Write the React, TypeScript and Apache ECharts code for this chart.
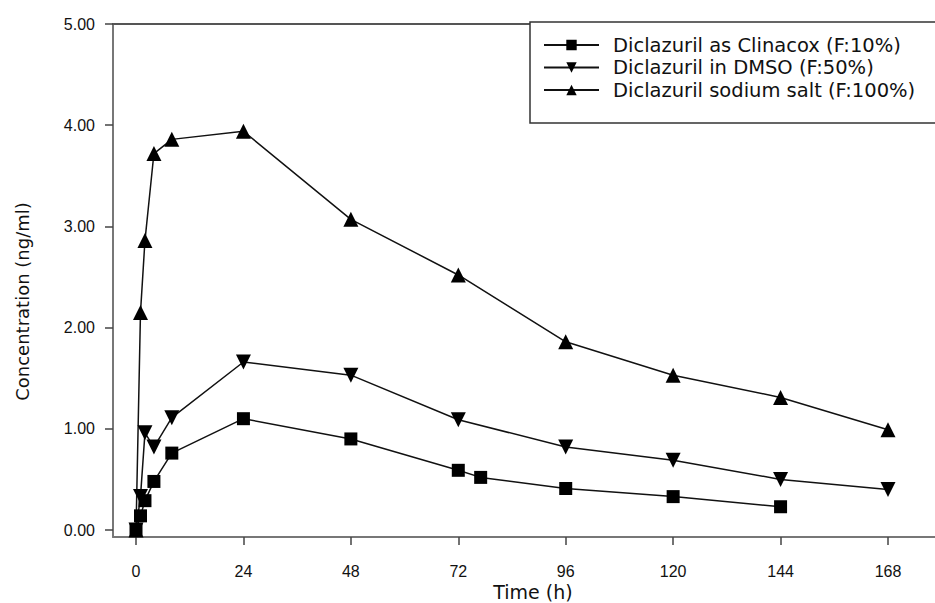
import React, { useEffect, useRef } from "react";
import * as echarts from "echarts";

const seriesNames = [
  "Diclazuril as Clinacox (F:10%)",
  "Diclazuril in DMSO (F:50%)",
  "Diclazuril sodium salt (F:100%)",
];

const clinacoxTime = [0, 1, 2, 4, 8, 24, 48, 72, 77, 96, 120, 144];
const clinacoxConc = [0, 0.14, 0.29, 0.48, 0.76, 1.1, 0.9, 0.59, 0.52, 0.41, 0.33, 0.23];

const dmsoTime = [0, 1, 2, 4, 8, 24, 48, 72, 96, 120, 144, 168];
const dmsoConc = [0, 0.33, 0.96, 0.82, 1.11, 1.66, 1.53, 1.09, 0.82, 0.69, 0.5, 0.4];

const sodiumTime = [0, 1, 2, 4, 8, 24, 48, 72, 96, 120, 144, 168];
const sodiumConc = [0, 2.15, 2.86, 3.72, 3.86, 3.94, 3.07, 2.52, 1.86, 1.53, 1.31, 0.99];

const xTicks = [0, 24, 48, 72, 96, 120, 144, 168];
const yTicks = [0, 1, 2, 3, 4, 5];

const FONT = "Liberation Sans";
const WIDE = "DejaVu Sans";

function zip(t: number[], v: number[]) {
  return t.map((x, i) => [x, v[i]]);
}

export default function App() {
  const ref = useRef<HTMLDivElement>(null);
  useEffect(() => {
    if (!ref.current) return;
    const chart = echarts.init(ref.current, undefined, { renderer: "svg" });
    const lineStyle = { color: "#111", width: 1.5 };
    const mk = (name: string, data: number[][], symbol: string, size: number, rotate = 0) => ({
      name,
      type: "line",
      data,
      symbol,
      symbolSize: size,
      symbolRotate: rotate,
      showSymbol: true,
      lineStyle,
      itemStyle: { color: "#000" },
      z: 3,
    });
    chart.setOption({
      animation: false,
      backgroundColor: "#fff",
      textStyle: { fontFamily: FONT },
      grid: {
        left: 113,
        right: 0,
        top: 24,
        bottom: 66,
        containLabel: false,
        outerBoundsMode: "none",
      },
      legend: {
        left: 530,
        top: 22,
        orient: "vertical",
        data: seriesNames,
        itemWidth: 55,
        itemHeight: 13,
        itemGap: 2.5,
        padding: [13, 60, 23, 13],
        borderColor: "#333",
        borderWidth: 1.5,
        backgroundColor: "#fff",
        textStyle: {
          fontFamily: WIDE,
          fontSize: 19.5,
          lineHeight: 20,
          color: "#111",
          padding: [0, 0, 0, 9],
        },
        z: 10,
      },
      xAxis: [
        {
          type: "value",
          min: -5.14,
          max: 178.5,
          name: "Time (h)",
          nameLocation: "middle",
          nameGap: 45,
          nameMoveOverlap: false,
          nameTextStyle: {
            fontFamily: WIDE,
            fontSize: 19,
            lineHeight: 19,
            color: "#111",
            padding: [0, 0, 0, 18],
          },
          splitLine: { show: false },
          axisLine: { show: true, onZero: false, lineStyle: { color: "#777", width: 2 } },
          axisTick: {
            show: true,
            inside: false,
            length: 8,
            customValues: xTicks,
            lineStyle: { color: "#444", width: 1.5 },
          },
          axisLabel: {
            customValues: xTicks,
            margin: 26,
            fontFamily: FONT,
            fontSize: 16,
            lineHeight: 16,
            color: "#111",
          },
        },
        {
          type: "value",
          position: "top",
          min: -5.14,
          max: 178.5,
          axisLine: { show: true, onZero: false, lineStyle: { color: "#555", width: 2 } },
          axisTick: { show: false },
          axisLabel: { show: false },
          splitLine: { show: false },
        },
      ],
      yAxis: {
        type: "value",
        min: -0.069,
        max: 5,
        name: "Concentration (ng/ml)",
        nameLocation: "middle",
        nameGap: 82,
        nameMoveOverlap: false,
        nameTextStyle: { fontFamily: WIDE, fontSize: 18, color: "#111", padding: [0, 42, 0, 0] },
        splitLine: { show: false },
        axisLine: { show: true, onZero: false, lineStyle: { color: "#777", width: 2 } },
        axisTick: {
          show: true,
          length: 8,
          customValues: yTicks,
          lineStyle: { color: "#444", width: 1.5 },
        },
        axisLabel: {
          customValues: yTicks,
          margin: 18,
          fontFamily: FONT,
          fontSize: 16,
          color: "#111",
          formatter: (v: number) => v.toFixed(2),
        },
      },
      series: [
        mk(seriesNames[0], zip(clinacoxTime, clinacoxConc), "rect", 13),
        mk(seriesNames[1], zip(dmsoTime, dmsoConc), "triangle", 15, 180),
        mk(seriesNames[2], zip(sodiumTime, sodiumConc), "triangle", 15),
      ],
    });
    return () => chart.dispose();
  }, []);
  return <div ref={ref} style={{ width: 935, height: 603, position: "absolute", left: 0, top: 0 }} />;
}
